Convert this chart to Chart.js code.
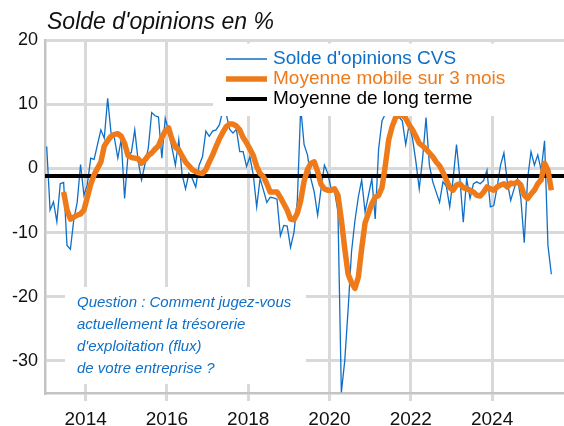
<!DOCTYPE html>
<html lang="fr">
<head>
<meta charset="utf-8">
<title>Solde d'opinions</title>
<script src="https://cdn.jsdelivr.net/npm/chart.js@4.4.1/dist/chart.umd.min.js"></script>
<style>
  html, body { margin: 0; padding: 0; background: #fff; }
  #chart { display: block; }
</style>
</head>
<body>
<canvas id="chart" width="564" height="426"></canvas>
<script>
// Monthly data, Jan 2013 -> Jun 2025
const firstYear = 2013;

// Solde d'opinions CVS (thin blue line)
const soldeCvs = [
    3.4, -6.5, -5.2, -8.3, -2.4, -2.2, -12.0, -12.6, -8.0, -5.3, 0.6, -4.2,   // 2013
    -2.5, 1.6, 1.4, 3.7, 6.0, 4.7, 10.9, 5.5, 4.7, 1.6, 4.5, -4.7,           // 2014
    2.0, 2.5, 6.0, 1.2, -1.8, 0.6, 3.2, 8.7, 8.2, 8.0, 1.6, 7.8,             // 2015
    5.8, 3.2, 0.5, 4.5, -1.0, -3.2, -0.8, -1.6, -2.9, 0.5, 1.8, 5.8,         // 2016
    5.0, 5.8, 6.0, 6.8, 9.0, 8.5, 6.1, 5.5, 6.1, 2.6, 2.6, 0.3,              // 2017
    1.8, -1.0, -6.0, -1.6, -3.4, -5.3, -4.5, -4.6, -4.8, -10.5, -8.9, -9.0,  // 2018
    -12.3, -10.0, -5.0, 9.5, 3.7, 2.1, -1.6, -3.7, -7.3, -3.2, 0.5, -0.8,   // 2019
    -3.2, -3.6, -6.8, -34.9, -30.0, -22.0, -13.0, -8.2, -4.5, -1.8, -6.8, -4.2, // 2020
    -1.6, -7.9, 3.0, 7.4, 8.5, 9.5, 8.5, 9.0, 8.0, 7.4, 3.7, 6.8,            // 2021
    4.7, 1.1, -3.2, 1.6, 7.9, 0.5, -2.1, -3.7, -5.3, -2.1, -2.8, -6.0,       // 2022
    -1.6, 3.7, -1.6, -8.4, -1.6, -4.7, -2.4, -2.1, -2.4, -1.9, -0.3, -6.0,   // 2023
    -5.8, -2.9, 0.5, 2.4, -2.1, -5.0, -3.2, -1.6, -4.7, -11.6, -1.6, 2.6,    // 2024
    0.5, 2.1, -0.3, 4.3, -12.0, -16.5                                         // 2025
];

// Moyenne mobile sur 3 mois (thick orange line)
const moyenneMobile = [
    null, null, null, null, null, -3.7, -6.5, -7.9, -7.6, -7.3, -7.1, -6.5,  // 2013
    -4.5, -2.5, -1.0, 0.0, 1.0, 3.5, 4.3, 5.0, 5.3, 5.4, 5.0, 3.9,           // 2014
    2.0, 1.7, 1.6, 1.5, 0.8, 1.3, 2.0, 2.4, 3.0, 3.5, 4.8, 5.8,              // 2015
    6.3, 4.5, 3.3, 2.9, 1.9, 1.0, 0.4, -0.2, -0.5, -0.7, -0.8, -0.2,         // 2016
    1.0, 2.1, 3.4, 4.6, 5.6, 6.5, 6.9, 6.9, 6.6, 6.0, 4.8, 4.0,              // 2017
    3.0, 2.0, 0.3, -0.8, -1.3, -2.4, -3.7, -3.7, -3.7, -4.5, -5.5, -6.5,     // 2018
    -7.9, -8.0, -7.0, -5.0, -2.0, -0.2, 0.8, 1.0, -0.5, -2.5, -3.2, -3.4,    // 2019
    -3.4, -3.2, -4.2, -8.0, -12.5, -16.5, -17.8, -18.7, -17.0, -12.5, -8.5, -7.0, // 2020
    -5.5, -4.5, -4.2, -3.0, 0.5, 4.5, 6.5, 7.9, 8.3, 8.3, 7.8, 6.8,          // 2021
    6.0, 5.0, 3.9, 3.5, 3.0, 2.4, 1.8, 1.0, 0.4, -0.6, -1.8, -3.0,           // 2022
    -3.4, -2.6, -2.4, -3.0, -3.2, -3.4, -3.7, -4.2, -4.3, -3.7, -2.9, -3.2,  // 2023
    -3.4, -2.9, -2.6, -2.4, -2.9, -2.3, -2.4, -2.1, -2.6, -4.2, -4.7, -4.0,  // 2024
    -3.4, -2.4, -1.8, 0.8, -0.3, -3.4                                         // 2025
];

// Moyenne de long terme (black horizontal line)
const moyenneLongTerme = -1.2;

// Axis ticks and range
const xTicks = [2014, 2016, 2018, 2020, 2022, 2024];
const yTicks = [-30, -20, -10, 0, 10, 20];
const xMin = 2013, xMax = 2025.77;
const yMin = -35, yMax = 20;

// Month positions (middle of each month, in decimal years)
const months = [];
for (let i = 0; i < soldeCvs.length; i++) {
    months.push(firstYear + (i + 0.5) / 12);
}

const BLUE = '#0f6fc6';
const ORANGE = '#ee7a1a';
const GRID = '#d9d9d9';
const AXIS = '#c3c3c3';
const FONT = "'Liberation Sans', Arial, sans-serif";

const legendItems = [
    {text: "Solde d'opinions CVS", color: BLUE, width: 1.3},
    {text: 'Moyenne mobile sur 3 mois', color: ORANGE, width: 5.5},
    {text: 'Moyenne de long terme', color: '#000000', width: 4}
];

const noteLines = [
    'Question : Comment jugez-vous',
    'actuellement la trésorerie',
    "d'exploitation (flux)",
    'de votre entreprise ?'
];

// Title, legend box and question box drawn on top of the plot
const overlayPlugin = {
    id: 'overlay',
    afterDatasetsDraw(chart) {
        const ctx = chart.ctx;
        ctx.save();

        // title
        ctx.fillStyle = '#111';
        ctx.font = 'italic 23px ' + FONT;
        ctx.textBaseline = 'alphabetic';
        ctx.textAlign = 'left';
        ctx.fillText("Solde d'opinions en %", 47, 29);

        // legend box (covers the grid and the tops of the curves)
        ctx.fillStyle = '#fff';
        ctx.fillRect(213, 43.5, 351, 72.5);
        ctx.font = '19px ' + FONT;
        legendItems.forEach((item, i) => {
            const y = 59 + i * 20;
            ctx.strokeStyle = item.color;
            ctx.lineWidth = item.width;
            ctx.beginPath();
            ctx.moveTo(226, y);
            ctx.lineTo(267, y);
            ctx.stroke();
            ctx.fillStyle = item.color;
            ctx.fillText(item.text, 273, y + 4.5 + i * 0.3);
        });

        // question box
        ctx.fillStyle = '#fff';
        ctx.fillRect(65, 287, 241, 97);
        ctx.fillStyle = BLUE;
        ctx.font = 'italic 15px ' + FONT;
        noteLines.forEach((line, i) => {
            ctx.fillText(line, 77, 306.5 + i * 22);
        });

        ctx.restore();
    }
};

const chart = new Chart(document.getElementById('chart'), {
    type: 'line',
    data: {
        datasets: [
            {
                label: 'Moyenne mobile sur 3 mois',
                data: months.map((x, i) => ({x: x, y: moyenneMobile[i]})),
                borderColor: ORANGE,
                borderWidth: 5.5,
                borderJoinStyle: 'round',
                pointRadius: 0,
                tension: 0,
                order: 1
            },
            {
                label: 'Moyenne de long terme',
                data: [{x: xMin, y: moyenneLongTerme}, {x: xMax, y: moyenneLongTerme}],
                borderColor: '#000',
                borderWidth: 4,
                pointRadius: 0,
                order: 2
            },
            {
                label: "Solde d'opinions CVS",
                data: months.map((x, i) => ({x: x, y: soldeCvs[i]})),
                borderColor: BLUE,
                borderWidth: 1.3,
                pointRadius: 0,
                tension: 0,
                order: 3
            }
        ]
    },
    options: {
        responsive: false,
        animation: false,
        devicePixelRatio: 1,
        layout: {padding: {top: 40, left: 0, right: 0, bottom: 0}},
        plugins: {
            legend: {display: false},
            tooltip: {enabled: false}
        },
        scales: {
            x: {
                type: 'linear',
                min: xMin,
                max: xMax,
                afterBuildTicks: (scale) => { scale.ticks = xTicks.map(v => ({value: v})); },
                afterFit: (scale) => { scale.height = 33; },
                grid: {color: GRID, lineWidth: 3, drawTicks: true, tickLength: 8, tickColor: GRID},
                border: {display: true, color: AXIS, width: 2.5},
                ticks: {
                    padding: 7,
                    color: '#111',
                    font: {family: FONT, size: 19},
                    maxRotation: 0,
                    callback: (v) => String(v)
                }
            },
            y: {
                min: yMin,
                max: yMax,
                afterBuildTicks: (scale) => { scale.ticks = yTicks.map(v => ({value: v})); },
                afterFit: (scale) => { scale.width = 45; },
                grid: {color: GRID, lineWidth: 3, drawTicks: false},
                border: {display: true, color: AXIS, width: 2.5},
                ticks: {
                    padding: 7,
                    color: '#111',
                    font: {family: FONT, size: 18},
                    callback: (v) => String(v)
                }
            }
        }
    },
    plugins: [overlayPlugin]
});
</script>
</body>
</html>
